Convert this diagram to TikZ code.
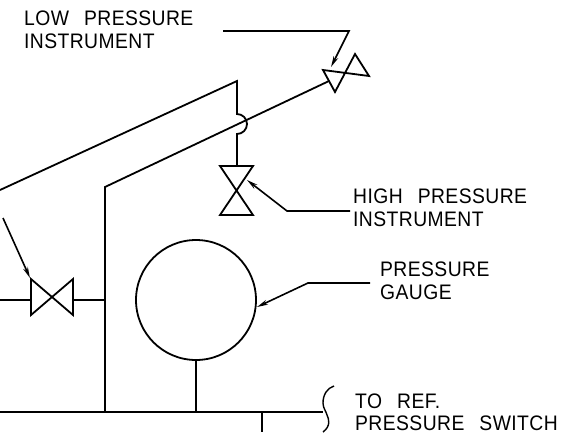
\documentclass[tikz,border=0pt]{standalone}
\usepackage{fontspec}
\setmainfont{Liberation Sans}[LetterSpace=2,FakeStretch=0.92,WordSpace=2.6]
\usetikzlibrary{arrows.meta}
\tikzset{
  pipe/.style={line width=1.8pt,line join=miter},
  lead/.style={line width=1.6pt,-{Stealth[length=11pt,width=5pt]}},
  lbl/.style={anchor=base west,inner sep=0pt,font=\fontsize{21}{21}\selectfont},
}
\begin{document}
\begin{tikzpicture}[x=1pt,y=-1pt]
\useasboundingbox (0,0) rectangle (567,432);
% named points
\coordinate (a1) at (223,31);
\coordinate (a2) at (349,31);
\coordinate (a3) at (331,67);
\coordinate (b1) at (350,211);
\coordinate (b2) at (287,211);
\coordinate (b3) at (247,180);
\coordinate (c1) at (370,283);
\coordinate (c2) at (308,283);
\coordinate (c3) at (257,307);
\coordinate (d1) at (3,218);
\coordinate (d3) at (30,278);
% gauge
\node[circle,draw,pipe,minimum size=120pt,inner sep=0pt] (gauge) at (196,300) {};
% upper valve
\draw[pipe] (323,70) -- (369,76) -- (355,54) -- (335,92) -- cycle;
\coordinate (uv) at (329,81);
% high pressure valve
\draw[pipe] (220,166) -- (253,166) -- (220,215) -- (253,215) -- cycle;
\coordinate (hv) at (237,166);
% left valve
\draw[pipe] (31,279) -- (73,315) -- (73,279) -- (31,315) -- cycle;
\coordinate (lvl) at (31,300);
\coordinate (lvr) at (73,300);
% pipes
\coordinate (bus) at (105,412);
\draw[pipe] (uv) -- (105,187) -- (bus);
\draw[pipe] (0,190) -- (237,81) -- (237,114) arc[start angle=-90,end angle=90,radius=10] -- (hv);
\draw[pipe] (0,300) -- (lvl);
\draw[pipe] (lvr) -- (105,300);
\draw[pipe] (gauge.south) -- (196,412);
\draw[pipe] (0,412) -- (323,412);
\draw[pipe] (262,412) -- (262,432);
% brace
\draw[line width=1.4pt] (334,386) .. controls (327,388) and (323,395) .. (323,403) .. controls (323,408) and (326,411) .. (327,415) .. controls (329,419) and (331,426) .. (323,432);
% leaders
\draw[lead] (a1) -- (a2) -- (a3);
\draw[lead] (b1) -- (b2) -- (b3);
\draw[lead] (c1) -- (c2) -- (c3);
\draw[lead] (d1) -- (d3);
% labels
\node[lbl] (t1) at (24,25.5) {LOW PRESSURE};
\node[lbl] (t2) at (24,48) {INSTRUMENT};
\node[lbl] (t3) at (353,203.5) {HIGH PRESSURE};
\node[lbl] (t4) at (353,226) {INSTRUMENT};
\node[lbl] (t5) at (380,276.5) {PRESSURE};
\node[lbl] (t6) at (380,299.5) {GAUGE};
\node[lbl] (t7) at (355,408) {TO REF.};
\node[lbl] (t8) at (355,430) {PRESSURE SWITCH};
\end{tikzpicture}
\end{document}
